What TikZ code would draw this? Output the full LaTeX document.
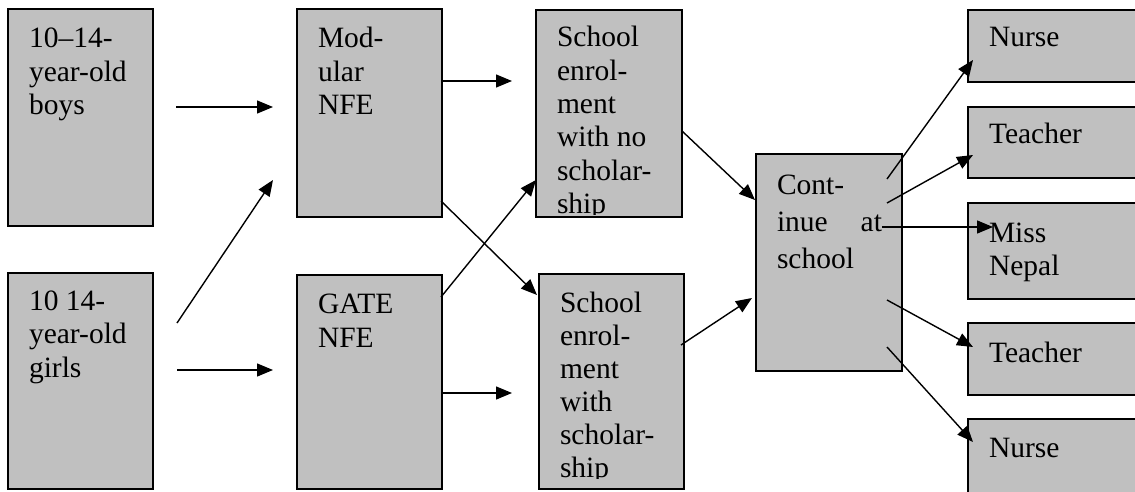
\documentclass[tikz,border=0pt]{standalone}
\usepackage{fontspec}
\setmainfont{Liberation Serif}
\usetikzlibrary{arrows.meta,calc}
\definecolor{boxgray}{HTML}{C0C0C0}
\tikzset{
  box/.style={draw=black, fill=boxgray, line width=1.6pt, anchor=north west, inner sep=0pt, outer sep=0pt},
  txt/.style={anchor=base west, inner sep=0pt, outer sep=0pt},
  arr/.style={line width=1.4pt, -{Triangle[length=16pt,width=13pt]}},
}
% name, x, y, w, h, text, baselineskip, first baseline offset, clip margin at bottom
\newcommand\mybox[9]{%
  \node[box, minimum width=#4pt, minimum height=#5pt] (#1) at (#2,#3) {};
  \begin{scope}
    \clip (#2,#3) rectangle (#2+#4,#3+#5-#9);
    \node[txt] (#1-t) at (#2+21,#3+#8)
      {\parbox[t]{105pt}{\fontsize{29.5}{#7}\selectfont #6}};
  \end{scope}
}
\begin{document}
\begin{tikzpicture}[x=1pt,y=-1pt]
\useasboundingbox (0,0) rectangle (1135,492);
\clip (0,0) rectangle (1135,492);

\mybox{boys}{8}{9}{145}{217}{10--14-\\year-old\\boys}{33.5}{39}{3}
\mybox{girls}{8}{273}{145}{216}{10 14-\\year-old\\girls}{33.5}{37}{3}
\mybox{modular}{297}{9}{145}{208}{Mod-\\ular\\NFE}{33.5}{39}{3}
\mybox{gate}{297}{275}{145}{214}{GATE\\NFE}{34}{38}{3}
\mybox{schno}{536}{10}{146}{207}{School\\enrol-\\ment\\with no\\scholar-\\ship}{33.3}{37}{3}
\mybox{schw}{539}{274}{145}{215}{School\\enrol-\\ment\\with\\scholar-\\ship}{33}{38}{11}
\mybox{cont}{756}{154}{146}{217}{Cont-\\inue\hfill at\\school}{37}{40}{3}
\mybox{nurseA}{968}{10}{180}{72}{Nurse}{33.5}{37}{3}
\mybox{teachA}{968}{107}{180}{71}{Teacher}{33.5}{37}{3}
\mybox{miss}{968}{203}{180}{96}{Miss\\Nepal}{33.5}{39}{3}
\mybox{teachB}{968}{323}{180}{72}{Teacher}{33.5}{39}{3}
\mybox{nurseB}{968}{419}{180}{90}{Nurse}{33.5}{38}{3}

% connector end points
\coordinate (a1s) at (176,107);  \coordinate (a1e) at (273,107);
\coordinate (a2s) at (177,323);  \coordinate (a2e) at (273,180);
\coordinate (a3s) at (177,370);  \coordinate (a3e) at (273,370);
\coordinate (a4s) at (441,81);   \coordinate (a4e) at (512,81);
\coordinate (a5s) at (441,201);  \coordinate (a5e) at (537,295);
\coordinate (a6s) at (441,297);  \coordinate (a6e) at (536,180);
\coordinate (a7s) at (441,393);  \coordinate (a7e) at (512,393);
\coordinate (a8s) at (682,131);  \coordinate (a8e) at (755,200);
\coordinate (a9s) at (681,345);  \coordinate (a9e) at (752,298);
\coordinate (b1s) at (887,179);  \coordinate (b1e) at (973,60);
\coordinate (b2s) at (887,203);  \coordinate (b2e) at (973,155);
\coordinate (b3s) at (882,227);  \coordinate (b3e) at (993,227);
\coordinate (b4s) at (887,300);  \coordinate (b4e) at (973,347);
\coordinate (b5s) at (887,347);  \coordinate (b5e) at (973,442);

\draw[arr] (a1s) -- (a1e);
\draw[arr] (a2s) -- (a2e);
\draw[arr] (a3s) -- (a3e);
\draw[arr] (a4s) -- (a4e);
\draw[arr] (a5s) -- (a5e);
\draw[arr] (a6s) -- (a6e);
\draw[arr] (a7s) -- (a7e);
\draw[arr] (a8s) -- (a8e);
\draw[arr] (a9s) -- (a9e);
\draw[arr] (b1s) -- (b1e);
\draw[arr] (b2s) -- (b2e);
\draw[arr] (b3s) -- (b3e);
\draw[arr] (b4s) -- (b4e);
\draw[arr] (b5s) -- (b5e);
\end{tikzpicture}
\end{document}
